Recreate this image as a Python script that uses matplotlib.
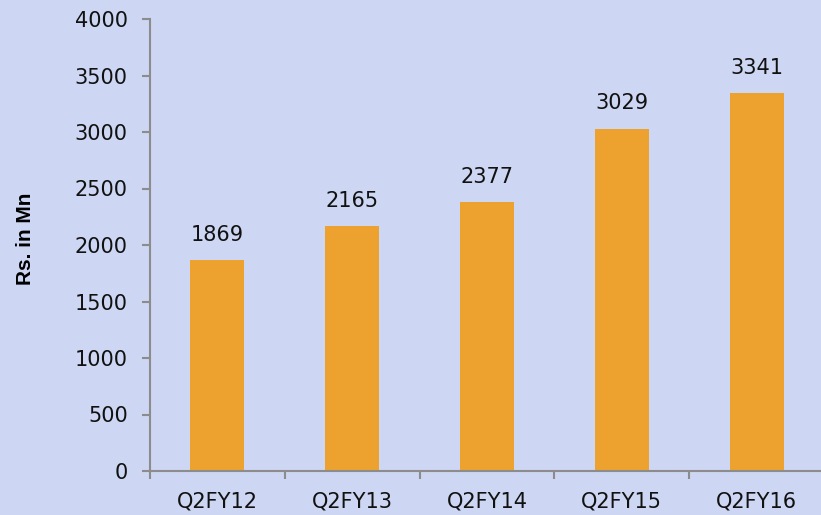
import numpy as np
import matplotlib.pyplot as plt
from matplotlib.ticker import FixedLocator

quarters = ['Q2FY12', 'Q2FY13', 'Q2FY14', 'Q2FY15', 'Q2FY16']
revenue = [1869, 2165, 2377, 3029, 3341]

bg = '#cdd6f2'
fig = plt.figure(figsize=(8.21, 5.15), dpi=100)
fig.patch.set_facecolor(bg)
ax = fig.add_axes([150/821, 1 - 471/515, 674/821, 452/515])
ax.set_facecolor('none')

x = np.arange(len(quarters))
bars = ax.bar(x, revenue, width=0.4, color='#eda22f', zorder=2)
for xi, v in zip(x, revenue):
    ax.annotate(str(v), (xi, v), xytext=(0, 11), textcoords='offset points',
                ha='center', va='bottom', fontsize=15, color='#111111',
                family='DejaVu Sans')

ax.set_xlim(-0.5, len(quarters) - 0.5)
ax.set_ylim(0, 4000)
ax.set_yticks(np.arange(0, 4001, 500))
ax.set_xticks(x)
ax.set_xticklabels(quarters)
ax.xaxis.set_minor_locator(FixedLocator(np.arange(-0.5, len(quarters), 1)))

for s in ['top', 'right']:
    ax.spines[s].set_visible(False)
for s in ['left', 'bottom']:
    ax.spines[s].set_color('#8c8c8c')
    ax.spines[s].set_linewidth(1.5)

ax.tick_params(axis='y', length=6, width=1.5, color='#8c8c8c', labelsize=15, pad=10)
ax.tick_params(axis='x', which='major', length=0, labelsize=15, pad=15)
ax.tick_params(axis='x', which='minor', length=6, width=1.5, color='#8c8c8c')
for lab in ax.get_xticklabels() + ax.get_yticklabels():
    lab.set_family('DejaVu Sans')
    lab.set_color('#111111')

fig.text(26/821, 1 - 239/515, 'Rs. in Mn', rotation=90, ha='center', va='center',
         fontsize=15, fontweight='bold', family='Liberation Sans')

fig.savefig('out.png', dpi=100, facecolor=bg)
